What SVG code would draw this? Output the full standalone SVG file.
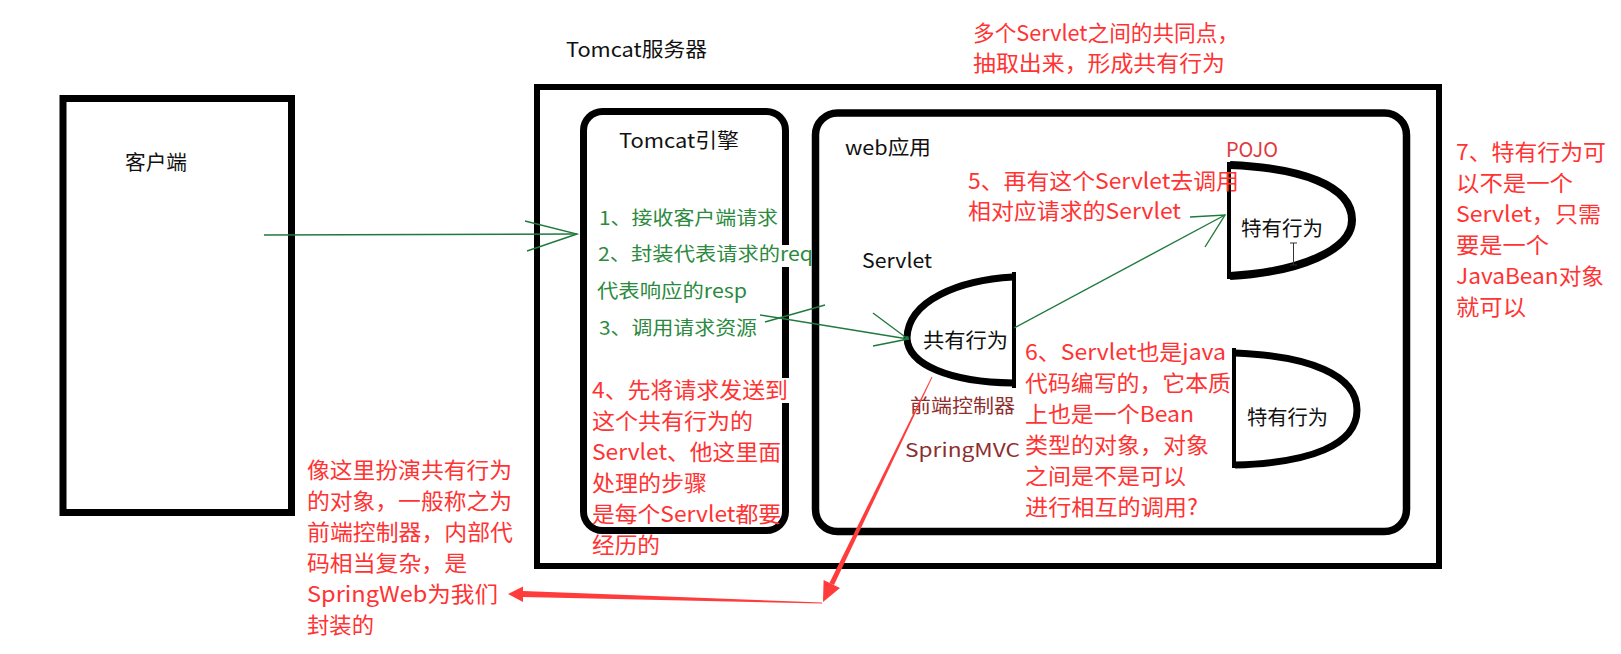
<svg xmlns="http://www.w3.org/2000/svg" width="1621" height="654" viewBox="0 0 1621 654">
<style>
text{font-family:"Noto Sans CJK SC","Noto Sans",sans-serif;}
.blk{fill:#111;font-size:20px;}
.grn{fill:#2b8a3e;font-size:19px;}
.red{fill:#ff3333;font-size:22px;}
.brn{fill:#8e2f2f;font-size:19px;}
.box{fill:none;stroke:#000;}
.gl{fill:none;stroke:#1f7a3d;stroke-width:1.4;}
.rd{fill:#ff3c3c;stroke:none;}
</style>
<rect width="1621" height="654" fill="#fff"/>

<g id="client">
<rect class="box" x="63" y="98.5" width="228.5" height="414" stroke-width="7"/>
<text class="blk" x="125" y="170" textLength="62" lengthAdjust="spacingAndGlyphs">客户端</text>
</g>

<g id="tomcat-server">
<rect class="box" x="537" y="87" width="902" height="479" stroke-width="6"/>
<text class="blk" x="566" y="57" textLength="141" lengthAdjust="spacingAndGlyphs">Tomcat服务器</text>
</g>

<g id="tomcat-engine">
<rect class="box" x="583.5" y="111.5" width="202" height="419" rx="19" stroke-width="7"/>
<text class="blk" x="619" y="148" textLength="120" lengthAdjust="spacingAndGlyphs">Tomcat引擎</text>
<rect x="780" y="245" width="11" height="22" fill="#fff"/>
<g class="grn">
<text x="599" y="225" textLength="179" lengthAdjust="spacingAndGlyphs">1、接收客户端请求</text>
<text x="598" y="261" textLength="215" lengthAdjust="spacingAndGlyphs">2、封装代表请求的req</text>
<text x="597" y="298" textLength="150" lengthAdjust="spacingAndGlyphs">代表响应的resp</text>
<text x="599" y="335" textLength="158" lengthAdjust="spacingAndGlyphs">3、调用请求资源</text>
</g>
</g>

<g id="web-app">
<rect class="box" x="815.5" y="113" width="591" height="418.5" rx="22" stroke-width="7.5"/>
<text class="blk" x="845" y="155" textLength="86" lengthAdjust="spacingAndGlyphs">web应用</text>
</g>

<g id="servlet">
<text class="blk" x="862" y="268" textLength="70" lengthAdjust="spacingAndGlyphs">Servlet</text>
<path d="M1013,277 C960,280 908,300 907,338 C908,365 950,382 1013,383" fill="none" stroke="#000" stroke-width="7"/>
<line x1="1014" y1="272" x2="1014" y2="388" stroke="#000" stroke-width="4"/>
<text class="blk" x="923" y="348" textLength="85" lengthAdjust="spacingAndGlyphs">共有行为</text>
<text class="brn" x="910" y="413" textLength="105" lengthAdjust="spacingAndGlyphs">前端控制器</text>
<text class="brn" x="905" y="457" font-size="20" textLength="115" lengthAdjust="spacingAndGlyphs">SpringMVC</text>
</g>

<g id="pojo">
<text x="1226" y="157" fill="#e0393e" font-size="20" textLength="52" lengthAdjust="spacingAndGlyphs">POJO</text>
<path d="M1230,165 C1300,168 1352,185 1352,220 C1352,250 1300,272 1230,276" fill="none" stroke="#000" stroke-width="8"/>
<line x1="1229" y1="162" x2="1229" y2="279" stroke="#000" stroke-width="4"/>
<text class="blk" x="1241" y="236" textLength="82" lengthAdjust="spacingAndGlyphs">特有行为</text>
<path d="M1290,243 h7 M1293.5,243 v22 M1290,265 h7" fill="none" stroke="#333" stroke-width="1"/>
</g>

<g id="behavior2">
<path d="M1235,353 C1310,356 1357,375 1357,410 C1357,445 1310,463 1235,465" fill="none" stroke="#000" stroke-width="7"/>
<line x1="1234" y1="348" x2="1234" y2="468" stroke="#000" stroke-width="4"/>
<text class="blk" x="1247" y="425" textLength="81" lengthAdjust="spacingAndGlyphs">特有行为</text>
</g>

<g id="note-top" class="red">
<text x="973" y="41" textLength="266" lengthAdjust="spacingAndGlyphs">多个Servlet之间的共同点，</text>
<text x="973" y="71" textLength="252" lengthAdjust="spacingAndGlyphs">抽取出来，形成共有行为</text>
</g>

<g id="note-5" class="red">
<text x="968" y="189" textLength="271" lengthAdjust="spacingAndGlyphs">5、再有这个Servlet去调用</text>
<text x="968" y="219" textLength="213" lengthAdjust="spacingAndGlyphs">相对应请求的Servlet</text>
</g>

<g id="note-7" class="red">
<text x="1456" y="160" textLength="150" lengthAdjust="spacingAndGlyphs">7、特有行为可</text>
<text x="1456" y="191" textLength="117" lengthAdjust="spacingAndGlyphs">以不是一个</text>
<text x="1456" y="222" textLength="145" lengthAdjust="spacingAndGlyphs">Servlet，只需</text>
<text x="1456" y="253" textLength="93" lengthAdjust="spacingAndGlyphs">要是一个</text>
<text x="1456" y="284" textLength="148" lengthAdjust="spacingAndGlyphs">JavaBean对象</text>
<text x="1456" y="315" textLength="70" lengthAdjust="spacingAndGlyphs">就可以</text>
</g>

<g id="note-4">
<rect x="780" y="378" width="11" height="25" fill="#fff"/>
<g class="red">
<text x="592" y="398" textLength="196" lengthAdjust="spacingAndGlyphs">4、先将请求发送到</text>
<text x="592" y="429" textLength="161" lengthAdjust="spacingAndGlyphs">这个共有行为的</text>
<text x="592" y="460" textLength="189" lengthAdjust="spacingAndGlyphs">Servlet、他这里面</text>
<text x="592" y="491" textLength="115" lengthAdjust="spacingAndGlyphs">处理的步骤</text>
<text x="592" y="522" textLength="189" lengthAdjust="spacingAndGlyphs">是每个Servlet都要</text>
<text x="592" y="553" textLength="68" lengthAdjust="spacingAndGlyphs">经历的</text>
</g>
</g>

<g id="note-6" class="red">
<text x="1025" y="360" textLength="201" lengthAdjust="spacingAndGlyphs">6、Servlet也是java</text>
<text x="1025" y="391" textLength="206" lengthAdjust="spacingAndGlyphs">代码编写的，它本质</text>
<text x="1025" y="422" textLength="169" lengthAdjust="spacingAndGlyphs">上也是一个Bean</text>
<text x="1025" y="453" textLength="184" lengthAdjust="spacingAndGlyphs">类型的对象，对象</text>
<text x="1025" y="484" textLength="161" lengthAdjust="spacingAndGlyphs">之间是不是可以</text>
<text x="1025" y="515" textLength="173" lengthAdjust="spacingAndGlyphs">进行相互的调用?</text>
</g>

<g id="note-frontcontroller" class="red">
<text x="307" y="478" textLength="205" lengthAdjust="spacingAndGlyphs">像这里扮演共有行为</text>
<text x="307" y="509" textLength="205" lengthAdjust="spacingAndGlyphs">的对象，一般称之为</text>
<text x="307" y="540" textLength="206" lengthAdjust="spacingAndGlyphs">前端控制器，内部代</text>
<text x="307" y="571" textLength="160" lengthAdjust="spacingAndGlyphs">码相当复杂，是</text>
<text x="307" y="602" textLength="191" lengthAdjust="spacingAndGlyphs">SpringWeb为我们</text>
<text x="307" y="633" textLength="67" lengthAdjust="spacingAndGlyphs">封装的</text>
</g>

<g id="connectors">
<line class="gl" x1="264" y1="235" x2="577" y2="234"/>
<polyline class="gl" points="525,221 577,234 527,251"/>
<line class="gl" x1="760" y1="315" x2="908" y2="339"/>
<line class="gl" x1="765" y1="322" x2="825" y2="305"/>
<polyline class="gl" points="873,313 908,339 873,346"/>
<circle cx="907" cy="338" r="2" fill="#1f7a3d"/>
<line class="gl" x1="1014" y1="328" x2="1225" y2="215"/>
<polyline class="gl" points="1190,217 1225,215 1205,247"/>
<polygon class="rd" points="932.4,377.2 931.6,376.8 829.4,582.9 834,585"/>
<polygon class="rd" points="823,602 823.6,580 840,588"/>
<polygon class="rd" points="822,602.5 822,603.5 523,597 523,591"/>
<polygon class="rd" points="508,594 523,586.5 523,602"/>
</g>
</svg>
